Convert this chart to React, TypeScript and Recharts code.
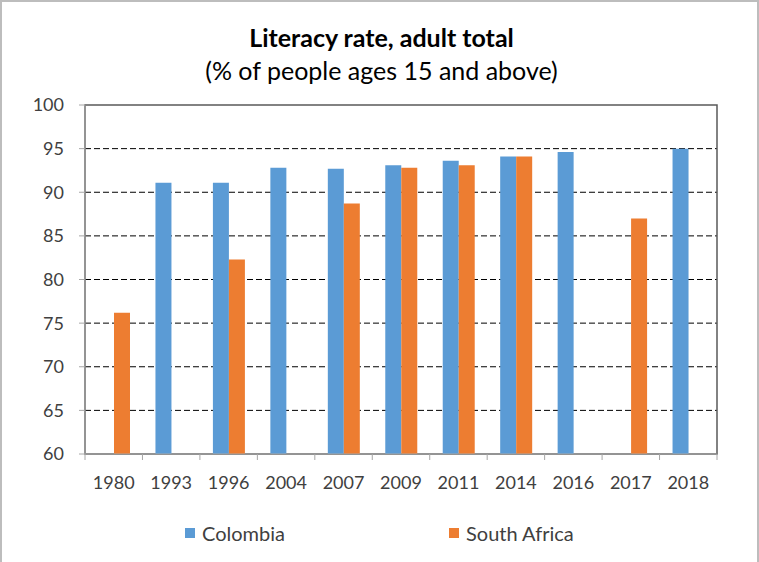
import React from "react";
import {
  BarChart,
  Bar,
  XAxis,
  YAxis,
  CartesianGrid,
  ReferenceArea,
} from "recharts";

const years = ["1980", "1993", "1996", "2004", "2007", "2009", "2011", "2014", "2016", "2017", "2018"];
const colombia = [null, 91.1, 91.1, 92.8, 92.7, 93.1, 93.6, 94.1, 94.6, null, 95.0];
const southAfrica = [76.2, null, 82.3, null, 88.7, 92.8, 93.1, 94.1, null, 87.0, null];
const yTicks = [60, 65, 70, 75, 80, 85, 90, 95, 100];
const gridValues = [65, 70, 75, 80, 85, 90, 95];

const series = [
  { key: "colombia", name: "Colombia", color: "#5B9BD5" },
  { key: "southAfrica", name: "South Africa", color: "#ED7D31" },
];

const data = years.map((year, i) => ({
  year,
  colombia: colombia[i],
  southAfrica: southAfrica[i],
}));

const W = 759;
const H = 562;
const PLOT_LEFT = 85;
const PLOT_RIGHT = 717;
const PLOT_TOP = 105;
const PLOT_BOTTOM = 454;
const X_AXIS_H = 30;
const FONT = "Lato, 'Open Sans', sans-serif";
const TEXT = "#404040";
const AXIS = "#a6a6a6";

/* eslint-disable @typescript-eslint/no-explicit-any */
// Excel-style category tick: mark sits on the boundary between categories
const YearTick = (props: any) => {
  const { x, y, payload, index } = props;
  const bw = (PLOT_RIGHT - PLOT_LEFT) / years.length;
  return (
    <g>
      <line x1={x - bw / 2} x2={x - bw / 2} y1={y} y2={y + 6} stroke={AXIS} />
      {index === years.length - 1 && (
        <line x1={x + bw / 2} x2={x + bw / 2} y1={y} y2={y + 6} stroke={AXIS} />
      )}
      <text
        x={x}
        y={y + 35}
        textAnchor="middle"
        fill={TEXT}
        fontFamily={FONT}
        fontSize={18}
      >
        {payload.value}
      </text>
    </g>
  );
};
/* eslint-enable @typescript-eslint/no-explicit-any */

export default function App() {
  return (
    <div
      style={{
        position: "absolute",
        left: 0,
        top: 0,
        width: W,
        height: H,
        boxSizing: "border-box",
        borderTop: "2px solid #bdbdbd",
        borderLeft: "2px solid #bdbdbd",
        borderRight: "2px solid #bdbdbd",
        background: "#fff",
        fontFamily: FONT,
      }}
    >
      <div
        style={{
          position: "absolute",
          top: 20,
          left: 0,
          width: W,
          textAlign: "center",
          fontSize: 25,
          lineHeight: "30px",
          fontWeight: 700,
          color: "#000",
        }}
      >
        Literacy rate, adult total
      </div>
      <div
        style={{
          position: "absolute",
          top: 53,
          left: 0,
          width: W,
          textAlign: "center",
          fontSize: 25,
          lineHeight: "30px",
          color: "#000",
        }}
      >
        (% of people ages 15 and above)
      </div>

      <div style={{ position: "absolute", left: -2, top: -2 }}>
        <BarChart
          width={W}
          height={H}
          data={data}
          barGap={0}
          margin={{
            top: PLOT_TOP,
            right: W - PLOT_RIGHT,
            bottom: H - PLOT_BOTTOM - X_AXIS_H,
            left: 0,
          }}
        >
          <CartesianGrid
            vertical={false}
            horizontalValues={gridValues}
            stroke="#000"
            strokeDasharray="6 3"
          />
          <ReferenceArea y1={60} y2={100} fill="none" stroke="#595959" strokeWidth={1.5} />
          <XAxis
            dataKey="year"
            height={X_AXIS_H}
            tickSize={0}
            tickMargin={0}
            axisLine={{ stroke: AXIS }}
            tickLine={false}
            tick={<YearTick />}
            interval={0}
          />
          <YAxis
            width={PLOT_LEFT}
            domain={[60, 100]}
            ticks={yTicks}
            allowDataOverflow
            tickSize={6}
            tickMargin={15}
            axisLine={{ stroke: AXIS }}
            tickLine={{ stroke: AXIS }}
            tick={{ fill: TEXT, fontSize: 18, fontFamily: FONT }}
          />
          {series.map((s) => (
            <Bar
              key={s.key}
              dataKey={s.key}
              name={s.name}
              fill={s.color}
              barSize={16}
              isAnimationActive={false}
            />
          ))}
        </BarChart>
      </div>

      <div
        style={{
          position: "absolute",
          top: 518,
          left: 183,
          display: "flex",
          fontSize: 20,
          lineHeight: "26px",
          color: TEXT,
        }}
      >
        {series.map((s, i) => (
          <div
            key={s.key}
            style={{
              display: "flex",
              alignItems: "center",
              width: i === 0 ? 264 : "auto",
            }}
          >
            <span
              style={{
                display: "inline-block",
                width: 10,
                height: 10,
                background: s.color,
                marginRight: 7,
              }}
            />
            {s.name}
          </div>
        ))}
      </div>
    </div>
  );
}
